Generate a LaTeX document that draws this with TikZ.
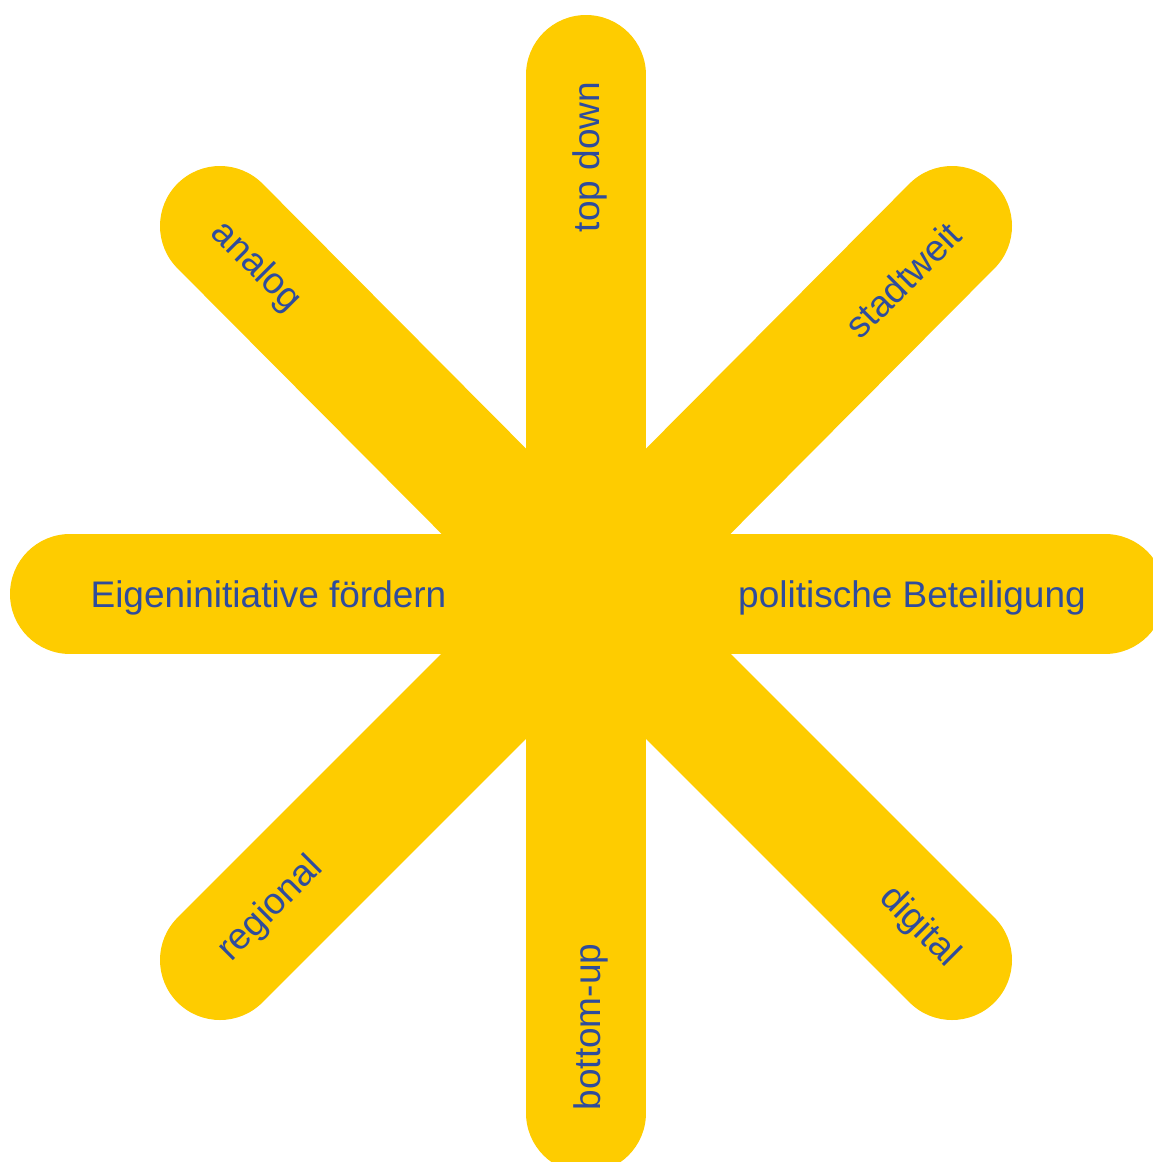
\documentclass[tikz,border=0pt]{standalone}
\usepackage{fontspec}
\setmainfont{Liberation Sans}
\definecolor{ylw}{RGB}{254,204,0}
\definecolor{txtblue}{RGB}{47,76,156}
\begin{document}
\begin{tikzpicture}[x=1pt,y=-1pt,
  arm/.style={line width=120pt, draw=ylw, line cap=round},
  lbl/.style={text=txtblue, font=\fontsize{37}{40}\selectfont, inner sep=0pt}]
\useasboundingbox (0,0) rectangle (1153,1162);
\coordinate (c) at (586,594);
\coordinate (eN) at (586,75);
\coordinate (eS) at (586,1113);
\coordinate (eW) at (70,594);
\coordinate (eE) at (1105,594);
\coordinate (eNW) at (220,226);
\coordinate (eNE) at (952,226);
\coordinate (eSW) at (220,960);
\coordinate (eSE) at (952,960);
\foreach \e in {eN,eS,eW,eE,eNW,eNE,eSW,eSE}
  \draw[arm] (c) -- (\e);
\node[lbl, anchor=base] (lW) at (268.5,607) {Eigeninitiative fördern};
\node[lbl, anchor=base] (lE) at (912,607) {politische Beteiligung};
\node[lbl, anchor=base, rotate=90] (lN) at (599,157) {top down};
\node[lbl, anchor=base, rotate=90] (lS) at (600,1027) {bottom-up};
\node[lbl, anchor=center, rotate=-45] (lNW) at (256,267) {analog};
\node[lbl, anchor=center, rotate=45] (lNE) at (903,280) {stadtweit};
\node[lbl, anchor=center, rotate=45] (lSW) at (271,909) {regional};
\node[lbl, anchor=center, rotate=-45] (lSE) at (919,927) {digital};
\end{tikzpicture}
\end{document}
